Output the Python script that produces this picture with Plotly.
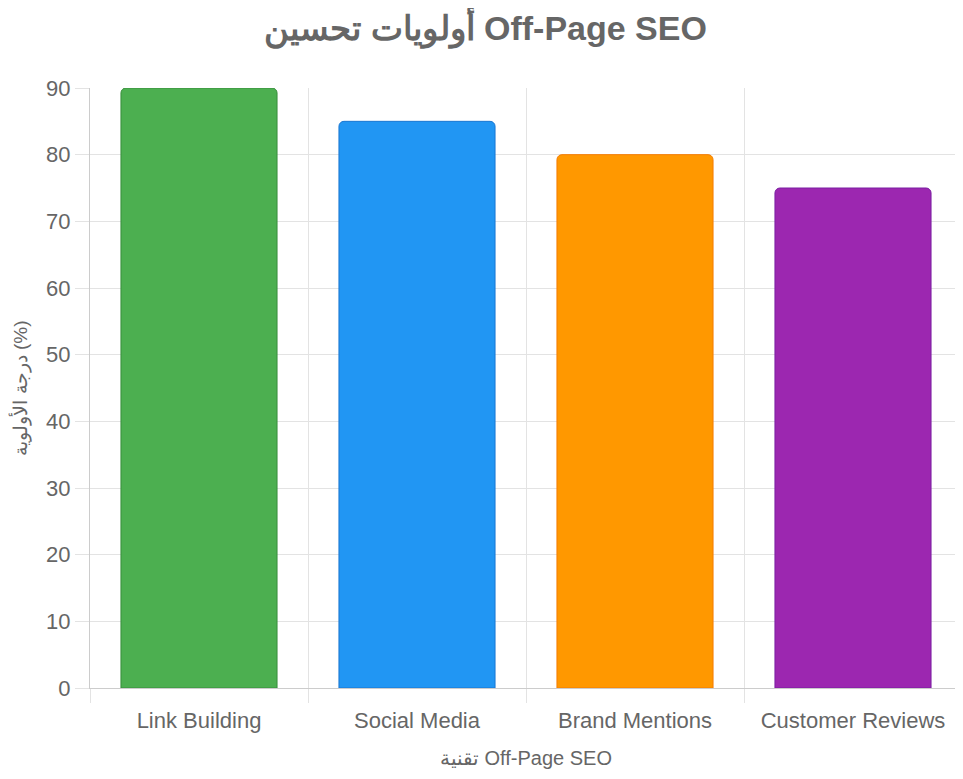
import plotly.graph_objects as go

# بيانات الرسم
techniques = ['Link Building', 'Social Media', 'Brand Mentions', 'Customer Reviews']
priority = [90, 85, 80, 75]
fill_colors = ['#4CAF50', '#2196F3', '#FF9800', '#9C27B0']
border_colors = ['#388E3C', '#1976D2', '#F57C00', '#7B1FA2']

font_name = 'Liberation Sans, Arial, sans-serif'
grid = '#e3e3e3'

fig = go.Figure(go.Bar(
    x=techniques,
    y=priority,
    marker=dict(color=fill_colors, line=dict(color=border_colors, width=1)),
    hoverinfo='x+y',
))

# la pagina tiene 8px de margen en el body, se compensa aqui
fig.update_layout(
    width=955, height=771,
    margin=dict(l=82, r=1, t=80, b=91),
    paper_bgcolor='white', plot_bgcolor='white',
    bargap=0.284,
    barcornerradius=5,
    showlegend=False,
    font=dict(family=font_name, color='#666666'),
    title=dict(text='<b>أولويات تحسين Off-Page SEO</b>', x=0.5, xanchor='center',
               y=0.974, yanchor='middle', font=dict(size=34, color='#666666')),
)

fig.update_xaxes(
    type='category', tickson='boundaries',
    showgrid=True, gridcolor=grid, gridwidth=1,
    ticks='outside', ticklen=14, tickcolor=grid,
    ticklabelstandoff=13,
    showline=True, linecolor='#cccccc',
    tickfont=dict(size=22, color='#666666'),
    title=dict(text='تقنية Off-Page SEO', font=dict(size=20, color='#666666'), standoff=18),
)

fig.update_yaxes(
    range=[0, 90], dtick=10,
    showgrid=True, gridcolor=grid, gridwidth=1,
    zeroline=False, automargin=False,
    ticks='outside', ticklen=14, tickcolor=grid,
    showline=True, linecolor='#cccccc',
    tickfont=dict(size=22, color='#666666'),
    title=dict(text='درجة الأولوية (%)', font=dict(size=19, color='#666666'), standoff=16),
)

fig.write_html('out.html')
